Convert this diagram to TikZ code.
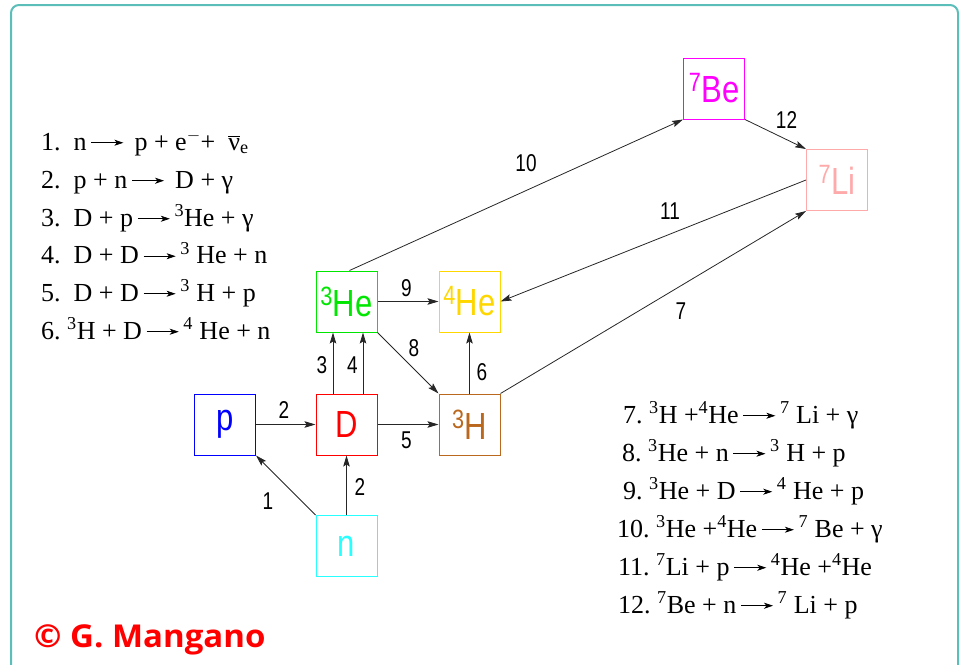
\documentclass[tikz,border=0pt]{standalone}
\usepackage{fontspec}
\setmainfont{Liberation Serif}
\setsansfont{Liberation Sans}
\newfontfamily\copyfont{Open Sans}
\usetikzlibrary{arrows.meta}
\definecolor{frame}{RGB}{92,190,184}
\definecolor{cp}{RGB}{0,0,255}
\definecolor{cD}{RGB}{255,0,0}
\definecolor{cH}{RGB}{186,104,30}
\definecolor{cn}{RGB}{40,255,255}
\definecolor{cHe}{RGB}{0,230,0}
\definecolor{cHef}{RGB}{255,215,0}
\definecolor{cBe}{RGB}{255,0,255}
\definecolor{cLi}{RGB}{255,170,170}
\newcommand{\eqarrow}{\,\tikz[baseline=-0.28em]\draw[line width=0.7pt,-{Stealth[length=9pt,width=6pt,inset=2.5pt]}](0,0)--(32pt,0);\,}
\newcommand{\sus}[1]{\textsuperscript{#1}}
\newcommand{\lb}[1]{\scalebox{1}[1.28]{#1}}
\newcommand{\nl}[1]{\scalebox{1}[1.22]{#1}}
\begin{document}
\begin{tikzpicture}[x=1pt,y=-1pt,
  nuc/.style={draw=#1,text=#1,line width=1pt,minimum width=61pt,minimum height=61pt,inner sep=0pt,font=\sffamily\fontsize{31}{31}\selectfont},
  arr/.style={draw=black!85,line width=0.8pt,-{Stealth[length=11pt,width=6.5pt,inset=2pt]}},
  lab/.style={font=\sffamily\fontsize{19}{19}\selectfont,inner sep=0pt},
  eq/.style={anchor=base west,inner sep=0pt,font=\fontsize{26}{26}\selectfont}]
\useasboundingbox (0,0) rectangle (961,664);
\draw[frame,line width=2pt,rounded corners=8pt] (11,5) rectangle (958,690);
% nuclei
\node[nuc=cp] (p) at (225,424.5) {\nl{p}};
\node[nuc=cD] (D) at (346.5,424.5) {\nl{D}};
\node[nuc=cH] (H3) at (469.5,424.5) {\nl{\sus{3}H}};
\node[nuc=cn] (n) at (346.5,546) {\nl{n}};
\node[nuc=cHe] (He3) at (346.5,301.5) {\nl{\sus{3}He}};
\node[nuc=cHef] (He4) at (469.5,301.5) {\nl{\sus{4}He}};
\node[nuc=cBe] (Be7) at (714,88.5) {\nl{\sus{7}Be}};
\node[nuc=cLi] (Li7) at (837,180) {\nl{\sus{7}Li}};
% reactions
\draw[arr] (n.north west) -- (p.south east);
\draw[arr] (n.north) -- (D.south);
\draw[arr] (p.east) -- (D.west);
\draw[arr] ([xshift=-13.5pt]D.north) -- ([xshift=-13.5pt]He3.south);
\draw[arr] ([xshift=16.5pt]D.north) -- ([xshift=16.5pt]He3.south);
\draw[arr] (D.east) -- (H3.west);
\draw[arr] (He3.east) -- (He4.west);
\draw[arr] (He3.south east) -- (H3.north west);
\draw[arr] (H3.north) -- (He4.south);
\draw[arr] ([xshift=3pt]He3.north) -- (Be7.south west);
\draw[arr] (Be7.south east) -- (Li7.north west);
\draw[arr] (Li7.west) -- (He4.east);
\draw[arr] (H3.north east) -- (Li7.south west);
% labels
\node[lab] (l1) at (268,501) {\lb{1}};
\node[lab] (l2a) at (360,487) {\lb{2}};
\node[lab] (l2b) at (284,410) {\lb{2}};
\node[lab] (l3) at (322,365) {\lb{3}};
\node[lab] (l4) at (352.5,365) {\lb{4}};
\node[lab] (l5) at (406.5,440) {\lb{5}};
\node[lab] (l9) at (406.5,288) {\lb{9}};
\node[lab] (l8) at (414,348) {\lb{8}};
\node[lab] (l6) at (482,372) {\lb{6}};
\node[lab] (l10) at (526,163) {\lb{10}};
\node[lab] (l12) at (786.5,120) {\lb{12}};
\node[lab] (l11) at (670,211.5) {\lb{11}};
\node[lab] (l7) at (681,311) {\lb{7}};
% equations left
\node[eq] (e1) at (41,150) {1.\ \ n\eqarrow\ p + e\sus{$-$}+\ \ \ensuremath{\overline{\hbox{ν}}}\textsubscript{e}};
\node[eq] (e2) at (41,188) {2.\ \ p + n\eqarrow\ D + γ};
\node[eq] (e3) at (41,226) {3.\ \ D + p\eqarrow\sus{3}He + γ};
\node[eq] (e4) at (41,263.5) {4.\ \ D + D\eqarrow\sus{3} He + n};
\node[eq] (e5) at (41,301) {5.\ \ D + D\eqarrow\sus{3} H + p};
\node[eq] (e6) at (41,339) {6.\ \sus{3}H + D\eqarrow\sus{4} He + n};
% equations right
\node[eq] (e7) at (623,423) {7.\ \sus{3}H +\sus{4}He\eqarrow\sus{7} Li + γ};
\node[eq] (e8) at (622,461) {8.\ \sus{3}He + n\eqarrow\sus{3} H + p};
\node[eq] (e9) at (623,499) {9.\ \sus{3}He + D\eqarrow\sus{4} He + p};
\node[eq] (e10) at (617,537) {10.\ \sus{3}He +\sus{4}He\eqarrow\sus{7} Be + γ};
\node[eq] (e11) at (618,575) {11.\ \sus{7}Li + p\eqarrow\sus{4}He +\sus{4}He};
\node[eq] (e12) at (618,613) {12.\ \sus{7}Be + n\eqarrow\sus{7} Li + p};
% copyright
\node[anchor=base west,inner sep=0pt,text=red,font=\copyfont\bfseries\fontsize{30}{30}\selectfont] (cr) at (34,647) {\scalebox{1.1}[1.05]{© G. Mangano}};
\end{tikzpicture}
\end{document}
